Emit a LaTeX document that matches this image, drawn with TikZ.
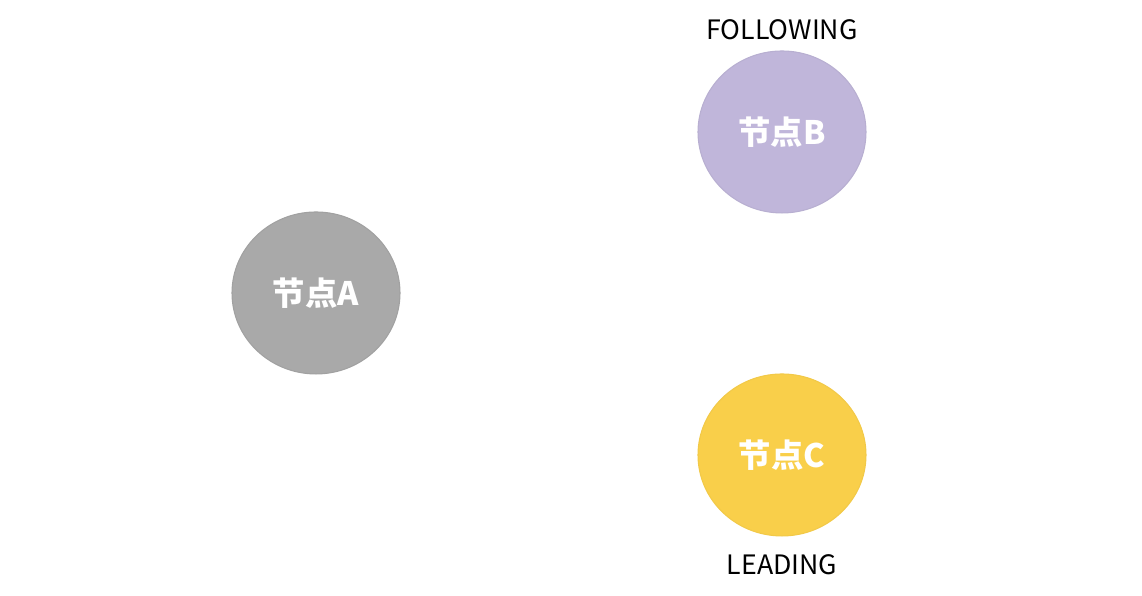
\documentclass[tikz,border=0pt]{standalone}
\usepackage{fontspec}
\newfontfamily\cjk{Noto Sans CJK SC}
\usetikzlibrary{shapes.geometric,positioning}
\definecolor{nodegray}{HTML}{A9A9A9}
\definecolor{nodepurple}{HTML}{C0B6DA}
\definecolor{nodeyellow}{HTML}{F9CF4A}
\tikzset{
  peer/.style={ellipse, minimum width=1.68cm, minimum height=1.62cm, inner sep=0pt,
    text=white, line width=0.3pt, font=\cjk\bfseries\fontsize{9.2}{10}\selectfont},
  role/.style={font=\cjk\fontsize{7.6}{9}\selectfont, inner sep=0pt}
}
\begin{document}
\begin{tikzpicture}
        \useasboundingbox (0, 0) rectangle (11.42, 5.96);
        \node[peer, fill=nodegray, draw=nodegray!95!black] (A) at (3.16, 3.03) {节点A};
        \node[peer, fill=nodepurple, draw=nodepurple!96!black] (B) at (7.82, 4.64) {节点B};
        \node[peer, fill=nodeyellow, draw=nodeyellow!97!black] (C) at (7.82, 1.41) {节点C};
        \node[role, above=0.1cm of B] (follow) {FOLLOWING};
        \node[role, below=0.17cm of C] (lead) {LEADING};
    \end{tikzpicture}
\end{document}
